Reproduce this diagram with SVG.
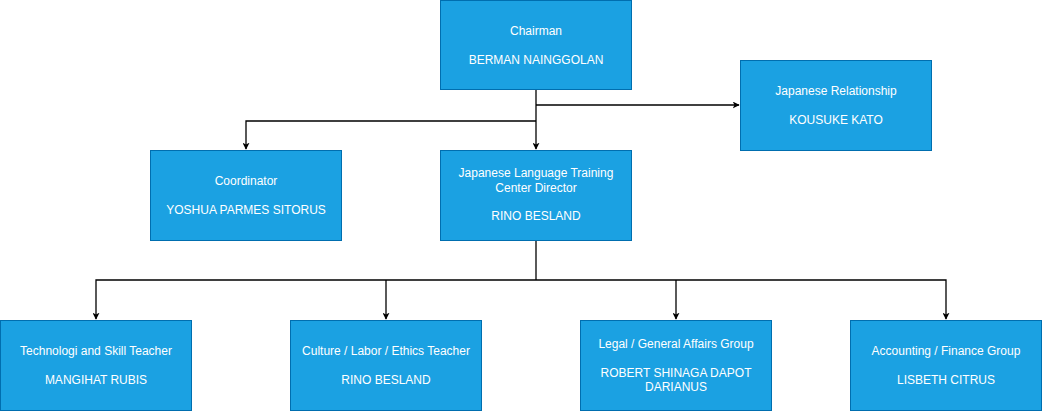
<svg xmlns="http://www.w3.org/2000/svg" width="1043" height="412" viewBox="0 0 1043 412">
<style>
.box{fill:#1ba1e2;stroke:#006eaf;stroke-width:1}
.t{font-family:"Liberation Sans",Arial,sans-serif;font-size:12px;fill:#ffffff;text-anchor:middle}
.c{fill:none;stroke:#000000;stroke-width:1.3;marker-end:url(#arr)}
.l{fill:none;stroke:#000000;stroke-width:1.3}
</style>
<defs>
<marker id="arr" viewBox="0 0 10 10" refX="9" refY="5" markerWidth="7" markerHeight="7" markerUnits="userSpaceOnUse" orient="auto">
<path d="M0,0 L10,5 L0,10 L2.5,5 Z" fill="#000000"/>
</marker>
</defs>
<rect width="1043" height="412" fill="#ffffff"/>
<g id="connectors">
<path class="c" d="M536,90 L536,149"/>
<path class="c" d="M536,105 L739,105"/>
<path class="c" d="M536,121 L246,121 L246,149"/>
<path class="l" d="M536,240 L536,280"/>
<path class="c" d="M536,280 L96,280 L96,319"/>
<path class="c" d="M386,280 L386,319"/>
<path class="c" d="M536,280 L946,280 L946,319"/>
<path class="c" d="M676,280 L676,319"/>
</g>
<g id="chairman">
<rect class="box" x="440.5" y="0.5" width="191" height="89"/>
<text class="t" x="536" y="35">Chairman</text>
<text class="t" x="536" y="64">BERMAN NAINGGOLAN</text>
</g>
<g id="relationship">
<rect class="box" x="740.5" y="60.5" width="191" height="90"/>
<text class="t" x="836" y="95">Japanese Relationship</text>
<text class="t" x="836" y="124">KOUSUKE KATO</text>
</g>
<g id="coordinator">
<rect class="box" x="150.5" y="150.5" width="191" height="90"/>
<text class="t" x="246" y="185">Coordinator</text>
<text class="t" x="246" y="214">YOSHUA PARMES SITORUS</text>
</g>
<g id="director">
<rect class="box" x="440.5" y="150.5" width="191" height="90"/>
<text class="t" x="536" y="177">Japanese Language Training</text>
<text class="t" x="536" y="192">Center Director</text>
<text class="t" x="536" y="220">RINO BESLAND</text>
</g>
<g id="tech">
<rect class="box" x="0.5" y="320.5" width="191" height="90"/>
<text class="t" x="96" y="355">Technologi and Skill Teacher</text>
<text class="t" x="96" y="384">MANGIHAT RUBIS</text>
</g>
<g id="culture">
<rect class="box" x="290.5" y="320.5" width="191" height="90"/>
<text class="t" x="386" y="355">Culture / Labor / Ethics Teacher</text>
<text class="t" x="386" y="384">RINO BESLAND</text>
</g>
<g id="legal">
<rect class="box" x="580.5" y="320.5" width="191" height="90"/>
<text class="t" x="676" y="348">Legal / General Affairs Group</text>
<text class="t" x="676" y="377">ROBERT SHINAGA DAPOT</text>
<text class="t" x="676" y="391">DARIANUS</text>
</g>
<g id="accounting">
<rect class="box" x="850.5" y="320.5" width="191" height="90"/>
<text class="t" x="946" y="355">Accounting / Finance Group</text>
<text class="t" x="946" y="384">LISBETH CITRUS</text>
</g>
</svg>
